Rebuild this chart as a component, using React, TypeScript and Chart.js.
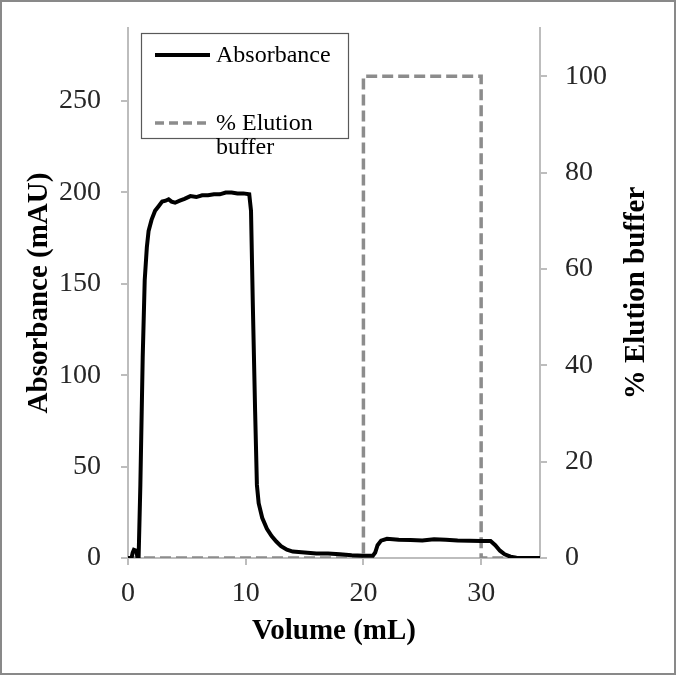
import React, { useEffect, useRef } from 'react';
import { Chart, registerables } from 'chart.js';

Chart.register(...registerables);

// ---- Data ----
const absVolume = [0, 0.3, 0.4, 0.5, 0.7, 0.8, 0.9, 1.05, 1.25, 1.42, 1.6, 1.75, 2.0, 2.3, 2.6, 2.9, 3.2, 3.45, 3.7, 4.0, 4.4, 4.8, 5.3, 5.8, 6.3, 6.8, 7.3, 7.8, 8.3, 8.8, 9.3, 9.8, 10.3, 10.45, 10.6, 10.8, 10.95, 11.1, 11.4, 11.8, 12.2, 12.6, 13.0, 13.5, 14.0, 15.0, 16.0, 17.0, 18.0, 19.0, 20.0, 20.8, 21.0, 21.2, 21.5, 22.0, 23.0, 24.0, 25.0, 26.0, 27.0, 28.0, 29.0, 30.0, 30.8, 31.2, 31.6, 32.0, 32.5, 33.0, 34.0, 35.0];
const absValues = [0, 0, 3, 4.5, 4, 0.5, 0, 40, 110, 152, 170, 179, 185, 190, 192.5, 195, 195.5, 196.3, 195, 194.4, 195.5, 196.5, 198, 197.5, 198.5, 198.5, 199, 199, 200, 200, 199.5, 199.5, 199, 190, 140, 80, 40, 30, 22, 16, 12, 9, 6.5, 4.5, 3.5, 3, 2.5, 2.5, 2, 1.5, 1.2, 1.2, 3, 7, 9.5, 10.5, 10, 9.8, 9.6, 10.2, 10, 9.6, 9.4, 9.3, 9.3, 7, 4, 2, 0.7, 0.2, 0, 0];

const elutionVolume = [0, 20, 20, 30, 30, 35];
const elutionValues = [0, 0, 100, 100, 0, 0];

const xTicks = [0, 10, 20, 30];
const leftTicks = [0, 50, 100, 150, 200, 250];
const rightTicks = [0, 20, 40, 60, 80, 100];

const seriesLabels = ['Absorbance', '% Elution buffer'];
const xTitle = 'Volume (mL)';
const leftTitle = 'Absorbance (mAU)';
const rightTitle = '% Elution buffer';

const SERIF = '"Liberation Serif", "Times New Roman", serif';
const AXIS_COLOR = '#bdbdbd';
const TICK_COLOR = '#262626';
const ABS_COLOR = '#000000';
const ELU_COLOR = '#8c8c8c';
const DASH = [11, 5];

function wrapText(ctx: CanvasRenderingContext2D, text: string, maxWidth: number): string[] {
  const words = text.split(' ');
  const lines: string[] = [];
  let cur = '';
  for (const w of words) {
    const test = cur ? cur + ' ' + w : w;
    if (ctx.measureText(test).width > maxWidth && cur) {
      lines.push(cur);
      cur = w;
    } else {
      cur = test;
    }
  }
  if (cur) lines.push(cur);
  return lines;
}

const framePlugin = {
  id: 'frameAndLegend',
  beforeDraw(chart: any) {
    const ctx = chart.ctx as CanvasRenderingContext2D;
    ctx.save();
    ctx.fillStyle = '#ffffff';
    ctx.fillRect(0, 0, chart.width, chart.height);
    ctx.restore();
  },
  afterDraw(chart: any) {
    const ctx = chart.ctx as CanvasRenderingContext2D;
    const area = chart.chartArea;
    ctx.save();
    // outer frame
    ctx.strokeStyle = '#898989';
    ctx.lineWidth = 2;
    ctx.strokeRect(1, 1, chart.width - 2, chart.height - 2);

    // right axis title (reads bottom-to-top)
    const y1 = chart.scales.y1;
    ctx.save();
    ctx.font = `bold 29px ${SERIF}`;
    ctx.fillStyle = '#000000';
    ctx.textAlign = 'center';
    ctx.textBaseline = 'alphabetic';
    ctx.translate(y1.right - 32, (area.top + area.bottom) / 2);
    ctx.rotate(-Math.PI / 2);
    ctx.fillText(rightTitle, 0, 0);
    ctx.restore();

    // legend box
    const bx = area.left + 13;
    const by = area.top + 5;
    const bw = 207;
    const bh = 105;
    ctx.fillStyle = '#ffffff';
    ctx.fillRect(bx, by, bw, bh);
    ctx.strokeStyle = '#595959';
    ctx.lineWidth = 1.2;
    ctx.strokeRect(bx + 0.5, by + 0.5, bw, bh);

    ctx.font = `24px ${SERIF}`;
    ctx.textBaseline = 'middle';
    ctx.textAlign = 'left';
    ctx.fillStyle = '#000000';
    const ds = chart.data.datasets;
    const rows = [
      { y: by + 22, color: ds[0].borderColor, width: ds[0].borderWidth, dash: [] as number[], label: ds[0].label },
      { y: by + 90, color: ds[1].borderColor, width: ds[1].borderWidth, dash: [9, 5], label: ds[1].label },
    ];
    const sx0 = bx + 14;
    const sx1 = bx + 69;
    const tx = bx + 75;
    for (const r of rows) {
      ctx.beginPath();
      ctx.setLineDash(r.dash);
      ctx.strokeStyle = r.color;
      ctx.lineWidth = r.width;
      ctx.moveTo(sx0, r.y);
      ctx.lineTo(sx1, r.y);
      ctx.stroke();
      ctx.setLineDash([]);
      const lines = wrapText(ctx, r.label, bx + bw - tx - 2);
      lines.forEach((ln, i) => ctx.fillText(ln, tx, r.y + 1 + i * 24));
    }
    ctx.restore();
  },
};

export default function App() {
  const ref = useRef<HTMLCanvasElement | null>(null);
  useEffect(() => {
    if (!ref.current) return;
    const tickFont = { family: SERIF, size: 28 };
    const titleFont = { family: SERIF, size: 29, weight: 'bold' as const, lineHeight: 1 };
    const grid = { drawOnChartArea: false, drawTicks: true, tickLength: 7, color: AXIS_COLOR, lineWidth: 2 };
    const border = { display: true, color: AXIS_COLOR, width: 2 };
    const fitV = (w: number) => (s: any) => {
      s.width = w;
      s.paddingTop = 0;
      s.paddingBottom = 0;
    };
    const chart = new Chart(ref.current, {
      type: 'line',
      data: {
        datasets: [
          {
            label: seriesLabels[0],
            data: absVolume.map((x, i) => ({ x, y: absValues[i] })),
            borderColor: ABS_COLOR,
            borderWidth: 4,
            pointRadius: 0,
            tension: 0,
            fill: false,
            yAxisID: 'y',
            order: 1,
          },
          {
            label: seriesLabels[1],
            data: elutionVolume.map((x, i) => ({ x, y: elutionValues[i] })),
            borderColor: ELU_COLOR,
            borderWidth: 3.5,
            borderDash: DASH,
            pointRadius: 0,
            tension: 0,
            fill: false,
            yAxisID: 'y1',
            order: 2,
          },
        ],
      },
      options: {
        responsive: false,
        animation: false,
        devicePixelRatio: 1,
        layout: { padding: { top: 28, left: 0, right: 0, bottom: 0 } },
        plugins: { legend: { display: false }, tooltip: { enabled: false } },
        scales: {
          x: {
            type: 'linear',
            min: 0,
            max: 35,
            grid,
            border,
            afterBuildTicks: (s: any) => { s.ticks = xTicks.map((v) => ({ value: v })); },
            afterFit: (s: any) => { s.height = 117; s.paddingLeft = 0; s.paddingRight = 0; },
            ticks: { font: tickFont, color: TICK_COLOR, padding: 12, maxRotation: 0 },
            title: { display: true, text: xTitle, font: titleFont, color: '#000', padding: { top: 0, bottom: 29 } },
          },
          y: {
            type: 'linear',
            position: 'left',
            min: 0,
            max: 290,
            grid,
            border,
            afterBuildTicks: (s: any) => { s.ticks = leftTicks.map((v) => ({ value: v })); },
            afterFit: fitV(128),
            ticks: { font: tickFont, color: TICK_COLOR, padding: 20 },
            title: { display: true, text: leftTitle, font: titleFont, color: '#000', padding: { top: 25, bottom: 0 } },
          },
          y1: {
            type: 'linear',
            position: 'right',
            min: 0,
            max: 110,
            grid,
            border,
            afterBuildTicks: (s: any) => { s.ticks = rightTicks.map((v) => ({ value: v })); },
            afterFit: fitV(136),
            ticks: { font: tickFont, color: TICK_COLOR, padding: 18 },
            title: { display: false, text: rightTitle },
          },
        },
      },
      plugins: [framePlugin],
    });
    return () => chart.destroy();
  }, []);

  return (
    <div style={{ position: 'absolute', left: 0, top: 0, width: 676, height: 675 }}>
      <canvas ref={ref} width={676} height={675} style={{ display: 'block', width: 676, height: 675 }} />
    </div>
  );
}
